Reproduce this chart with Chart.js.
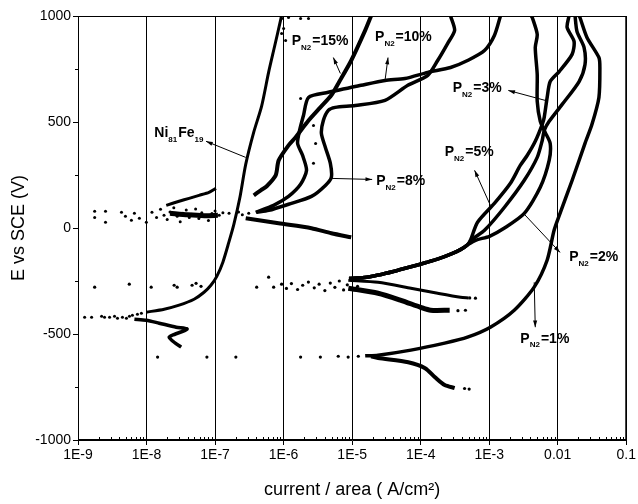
<!DOCTYPE html>
<html>
<head>
<meta charset="utf-8">
<script src="https://cdn.jsdelivr.net/npm/chart.js@4.4.1/dist/chart.umd.min.js"></script>
<style>
  html, body { margin: 0; padding: 0; background: #fff; }
  canvas { display: block; }
</style>
</head>
<body>
<canvas id="polChart" width="638" height="504"></canvas>
<script>
// axis ticks
const xTickValues = [1e-9, 1e-8, 1e-7, 1e-6, 1e-5, 1e-4, 1e-3, 1e-2, 1e-1];
const xTickLabels = ['1E-9', '1E-8', '1E-7', '1E-6', '1E-5', '1E-4', '1E-3', '0.01', '0.1'];
const yTickValues = [-1000, -500, 0, 500, 1000];
const xTitle = 'current / area ( A/cm²)';
const yTitle = 'E vs SCE (V)';

// curves: [current (A/cm2), E (mV)]
const niFeAnodic = [[9.9e-9,-397],[1.81e-8,-383],[2.99e-8,-364],[4.94e-8,-336],[6.9e-8,-303],[8.7e-8,-270],[1.06e-7,-228],[1.3e-7,-161],[1.59e-7,-67],[1.88e-7,17],[2.29e-7,140],[2.8e-7,300],[3.66e-7,451],[4.78e-7,575],[6.04e-7,734],[7.38e-7,856],[9.02e-7,979],[9.3e-7,1000]];
const niFeHook = [[6.65e-9,-430],[9.9e-9,-435],[1.53e-8,-449],[2.71e-8,-468],[3.91e-8,-477],[2.37e-8,-506],[2.14e-8,-515],[2.53e-8,-539],[3.2e-8,-562]];
const niFeDots = [[1.25e-9,-421],[1.58e-9,-421],[2.21e-9,-416],[2.44e-9,-421],[2.89e-9,-421],[3.41e-9,-416],[3.77e-9,-426],[4.45e-9,-421],[5.09e-9,-426],[5.63e-9,-416],[6.22e-9,-411],[7.36e-9,-407],[8.41e-9,-402],
  [9.35e-7,988],[1.18e-6,993],[1.77e-6,988],[2.31e-6,988],[1e-6,941],[9.35e-7,917],[1.07e-6,884]];

const pn2_15 = [[3.67e-7,154],[4.64e-7,178],[5.67e-7,197],[7.66e-7,248],[8.47e-7,319],[1.18e-6,390],[1.49e-6,427],[2.31e-6,507],[3.44e-6,569],[4.97e-6,626],[6.28e-6,682],[9.7e-6,790],[1.55e-5,932],[1.89e-5,1000]];
const pn2_15Cath = [[1.94e-8,107],[2.99e-8,126],[4.18e-8,140],[5.84e-8,154],[8.15e-8,168],[1.03e-7,187]];
const pn2_10 = [[3.92e-7,74],[7.15e-7,107],[1.18e-6,149],[1.77e-6,206],[2.16e-6,272],[1.89e-6,343],[1.6e-6,399],[1.71e-6,460],[1.95e-6,531],[2.31e-6,616],[4.49e-6,640],[1.35e-5,673],[3.02e-5,696],[5.89e-5,705],[1.27e-4,734],[2.73e-4,757],[4.83e-4,790],[8.53e-4,837],[1.19e-3,908],[1.46e-3,1000]];
const pn2_8 = [[4.06e-7,74],[6.05e-7,83],[1.18e-6,112],[2.55e-6,149],[4.07e-6,201],[4.97e-6,239],[4.81e-6,305],[4.07e-6,380],[3.56e-6,446],[3.8e-6,507],[4.49e-6,555],[5.68e-6,569],[1.11e-5,578],[3.02e-5,602],[6.5e-5,673],[1.27e-4,720],[1.77e-4,790],[2.47e-4,870],[3.13e-4,932],[2.73e-4,1000]];
const pn2_8Cath = [[2.8e-7,46],[8.45e-7,22],[2.55e-6,-1],[4.97e-6,-25],[9.7e-6,-44]];
const lowBand = [[2.2e-8,70],[4e-8,62],[7e-8,58],[1.1e-7,60]];
const lowBandDots = [[1.75e-9,79],[1.75e-9,50],[2.52e-9,79],[2.52e-9,27],[4.31e-9,74],[4.92e-9,55],[6.01e-9,36],[6.65e-9,69],[7.86e-9,46],[9.93e-9,27],
  [1.2e-8,74],[1.4e-8,50],[1.6e-8,88],[1.8e-8,60],[2.0e-8,40],[2.2e-8,75],[2.5e-8,95],[2.8e-8,55],[3.1e-8,30],[3.4e-8,70],[3.8e-8,85],[4.2e-8,50],[4.6e-8,65],[5.2e-8,90],[5.8e-8,45],[6.4e-8,72],[7.2e-8,58],[8e-8,35],[9e-8,68],[1e-7,80],[1.15e-7,60],[1.3e-7,72],[1.6e-7,70],[2.2e-7,75],[2.5e-7,62],[3.1e-7,70],
  [2.73e-6,484],[2.93e-6,399],[2.73e-6,305],[1.77e-6,611]];

const midDots = [[1.75e-9,-279],[5.6e-9,-265],[1.17e-8,-279],[2.53e-8,-270],[2.8e-8,-279],[4.62e-8,-270],[5.28e-8,-261],[6.24e-8,-275],[4.05e-7,-279],[6.05e-7,-232],[7.16e-7,-279],[9.35e-7,-265],
  [1.1e-6,-285],[1.3e-6,-262],[1.6e-6,-290],[1.9e-6,-270],[2.3e-6,-255],[2.8e-6,-282],[3.3e-6,-265],[4e-6,-295],[4.8e-6,-260],[5.6e-6,-280],[6.5e-6,-250],[7.5e-6,-292],[8.5e-6,-268],[1.0e-5,-245],[1.2e-5,-275],
  [6.3e-4,-331],[5.2e-4,-330],[3.5e-4,-390],[4.5e-4,-388]];
const commonAnodic = [[9e-6,-238],[1.5e-5,-234],[2.4e-5,-222],[4e-5,-205],[7.2e-5,-183],[1.2e-4,-163],[1.8e-4,-146],[2.8e-4,-122],[3.8e-4,-102],[4.8e-4,-80]];
const cathUpper = [[8.8e-6,-246],[2.39e-5,-256],[7.2e-5,-284],[1.77e-4,-308],[3.82e-4,-327],[5e-4,-330]];
const cathLower = [[8.8e-6,-284],[2.39e-5,-308],[5.15e-5,-341],[1.0e-4,-374],[1.4e-4,-388],[2.65e-4,-388]];
const pn2_5 = [[5.36e-4,-55],[6.76e-4,27],[1.19e-3,116],[2.04e-3,211],[2.84e-3,295],[3.6e-3,343],[4.7e-3,409],[5.94e-3,489],[6.35e-3,522],[7.01e-3,616],[7.76e-3,691],[1.05e-2,738],[1.62e-2,819],[1.73e-2,880],[1.37e-2,946],[1.46e-2,1000]];
const pn2_2 = [[5.91e-4,-49],[8.55e-4,-11],[1.67e-3,98],[3.25e-3,225],[5.02e-3,333],[5.94e-3,413],[6.35e-3,460],[7.5e-3,503],[1.16e-2,583],[2.05e-2,691],[2.5e-2,771],[2.42e-2,852],[1.91e-2,927],[1.79e-2,1000]];
const pn2_3 = [[6.32e-4,-58],[1.01e-3,-39],[1.67e-3,0],[3.25e-3,69],[5.56e-3,192],[7.5e-3,319],[7.76e-3,399],[6.56e-3,451],[5.56e-3,503],[5.02e-3,597],[5.02e-3,724],[4.7e-3,852],[5.02e-3,913],[4.25e-3,993],[4.11e-3,1000]];

const pn2_1Dots = [[1.45e-8,-609],[7.6e-8,-609],[2.01e-7,-609],[1.77e-6,-609],[3.44e-6,-609],[6.27e-6,-605],[8.75e-6,-609],[1.23e-5,-605],[4.37e-4,-757],[5.1e-4,-760]];
const pn2_1 = [[1.55e-5,-603],[2.39e-5,-600],[7.2e-5,-576],[2.24e-4,-543],[4.83e-4,-515],[1.04e-3,-468],[2.32e-3,-388],[4.53e-3,-279],[7e-3,-152],[8.85e-3,-11],[1.08e-2,69],[1.62e-2,224],[2.5e-2,399],[3.16e-2,489],[3.99e-2,616],[4.12e-2,757],[3.99e-2,804],[2.67e-2,899],[2.11e-2,993],[2.05e-2,1000]];
const pn2_1Cath = [[1.89e-5,-605],[2.39e-5,-613],[6.58e-5,-633],[1.16e-4,-661],[1.62e-4,-704],[2.24e-4,-741],[3.13e-4,-755]];

// labels: text parts, anchor and arrow (from curve -> to label) in data units
const labels = [
  { parts: [['Ni'], ['81', 1], ['Fe'], ['19', 1]], at: [1.3e-8, 446], arrow: [[2.8e-7, 333], [7.38e-8, 409]] },
  { parts: [['P'], ['N2', 1], ['=15%']], at: [1.31e-6, 880], arrow: [[6.73e-6, 729], [5.32e-6, 804]] },
  { parts: [['P'], ['N2', 1], ['=10%']], at: [2.16e-5, 899], arrow: [[3.02e-5, 696], [3.34e-5, 804]] },
  { parts: [['P'], ['N2', 1], ['=8%']], at: [2.24e-5, 220], arrow: [[4.97e-6, 234], [1.96e-5, 229]] },
  { parts: [['P'], ['N2', 1], ['=3%']], at: [2.93e-4, 658], arrow: [[6.56e-3, 602], [1.9e-3, 649]] },
  { parts: [['P'], ['N2', 1], ['=5%']], at: [2.24e-4, 357], arrow: [[1.04e-3, 107], [6.12e-4, 272]] },
  { parts: [['P'], ['N2', 1], ['=2%']], at: [1.47e-2, -139], arrow: [[3.25e-3, 65], [1.08e-2, -115]] },
  { parts: [['P'], ['N2', 1], ['=1%']], at: [2.85e-3, -524], arrow: [[4.54e-3, -256], [4.7e-3, -468]] }
];

const pts = arr => arr.map(p => ({ x: p[0], y: p[1] }));

function lineSet(arr, width) {
  return { data: pts(arr), showLine: true, borderColor: '#000', borderWidth: width, pointRadius: 0, tension: 0.25, fill: false };
}
function dotSet(arr, r) {
  return { data: pts(arr), showLine: false, pointRadius: r, pointBackgroundColor: '#000', pointBorderWidth: 0 };
}

// frame, minor ticks, annotations
const extras = {
  id: 'extras',
  afterDatasetsDraw(chart) {
    const { ctx, chartArea: a } = chart;
    const xs = chart.scales.x, ys = chart.scales.y;
    ctx.save();
    ctx.strokeStyle = '#000';
    ctx.lineWidth = 1;
    ctx.strokeRect(a.left + 0.5, a.top + 0.5, a.right - a.left - 1, a.bottom - a.top - 1);

    ctx.beginPath();
    for (let d = -9; d < -1; d++) {
      for (let m = 2; m < 10; m++) {
        const px = Math.round(xs.getPixelForValue(m * Math.pow(10, d))) + 0.5;
        ctx.moveTo(px, a.bottom);
        ctx.lineTo(px, a.bottom - 3);
      }
    }
    [-750, -250, 250, 750].forEach(v => {
      const py = Math.round(ys.getPixelForValue(v)) + 0.5;
      ctx.moveTo(a.left, py);
      ctx.lineTo(a.left - 3, py);
    });
    ctx.stroke();

    labels.forEach(l => {
      const x1 = xs.getPixelForValue(l.arrow[0][0]), y1 = ys.getPixelForValue(l.arrow[0][1]);
      const x2 = xs.getPixelForValue(l.arrow[1][0]), y2 = ys.getPixelForValue(l.arrow[1][1]);
      ctx.beginPath();
      ctx.moveTo(x1, y1);
      ctx.lineTo(x2, y2);
      ctx.stroke();
      const ang = Math.atan2(y2 - y1, x2 - x1);
      ctx.beginPath();
      ctx.moveTo(x2, y2);
      ctx.lineTo(x2 - 7 * Math.cos(ang - 0.3), y2 - 7 * Math.sin(ang - 0.3));
      ctx.lineTo(x2 - 7 * Math.cos(ang + 0.3), y2 - 7 * Math.sin(ang + 0.3));
      ctx.closePath();
      ctx.fillStyle = '#000';
      ctx.fill();

      let tx = xs.getPixelForValue(l.at[0]);
      const ty = ys.getPixelForValue(l.at[1]);
      ctx.textBaseline = 'middle';
      ctx.textAlign = 'left';
      l.parts.forEach(([t, sub]) => {
        ctx.font = sub ? 'bold 8px "Liberation Sans", Arial, sans-serif' : 'bold 14px "Liberation Sans", Arial, sans-serif';
        ctx.fillText(t, tx, sub ? ty + 6 : ty);
        tx += ctx.measureText(t).width + (sub ? 1 : 0);
      });
    });
    ctx.restore();
  }
};

const tickFont = { family: '"Liberation Sans", Arial, sans-serif', size: 14 };
const titleFont = { family: '"Liberation Sans", Arial, sans-serif', size: 18 };

new Chart(document.getElementById('polChart'), {
  type: 'scatter',
  data: {
    datasets: [
      dotSet(niFeDots, 1.5),
      lineSet(niFeAnodic, 3),
      lineSet(niFeHook, 3.5),
      lineSet(pn2_15Cath, 3),
      lineSet(pn2_15, 4),
      lineSet(pn2_10, 3.5),
      lineSet(pn2_8, 3.5),
      lineSet(pn2_8Cath, 4),
      lineSet(lowBand, 5),
      dotSet(lowBandDots, 1.5),
      dotSet(midDots, 1.6),
      lineSet(cathUpper, 3),
      lineSet(cathLower, 5),
      lineSet(commonAnodic.concat(pn2_5), 3.5),
      lineSet(commonAnodic.concat(pn2_2), 3.5),
      lineSet(commonAnodic.concat(pn2_3), 3.5),
      dotSet(pn2_1Dots, 1.6),
      lineSet(pn2_1, 3.5),
      lineSet(pn2_1Cath, 4)
    ]
  },
  options: {
    responsive: false,
    animation: false,
    layout: { padding: { top: 16, right: 9, left: 0, bottom: 0 } },
    plugins: { legend: { display: false }, tooltip: { enabled: false } },
    scales: {
      x: {
        type: 'logarithmic',
        min: 1e-9,
        max: 0.1,
        afterBuildTicks: s => { s.ticks = xTickValues.map(v => ({ value: v })); },
        afterFit: s => { s.height = 64; },
        ticks: { callback: (v, i) => xTickLabels[i], autoSkip: false, maxRotation: 0, color: '#000', font: tickFont, padding: 2 },
        grid: { color: '#000', lineWidth: 1, tickLength: 5 },
        border: { color: '#000', width: 1 },
        title: { display: true, text: xTitle, color: '#000', font: titleFont, padding: { top: 0, bottom: 3 } }
      },
      y: {
        min: -1000,
        max: 1000,
        afterBuildTicks: s => { s.ticks = yTickValues.map(v => ({ value: v })); },
        afterFit: s => { s.width = 78; },
        ticks: { callback: v => String(v), color: '#000', font: tickFont, padding: 2 },
        grid: { drawOnChartArea: false, color: '#000', tickLength: 5 },
        border: { color: '#000', width: 1 },
        title: { display: true, text: yTitle, color: '#000', font: titleFont, padding: { top: 8, bottom: 0 } }
      }
    }
  },
  plugins: [extras]
});
</script>
</body>
</html>
